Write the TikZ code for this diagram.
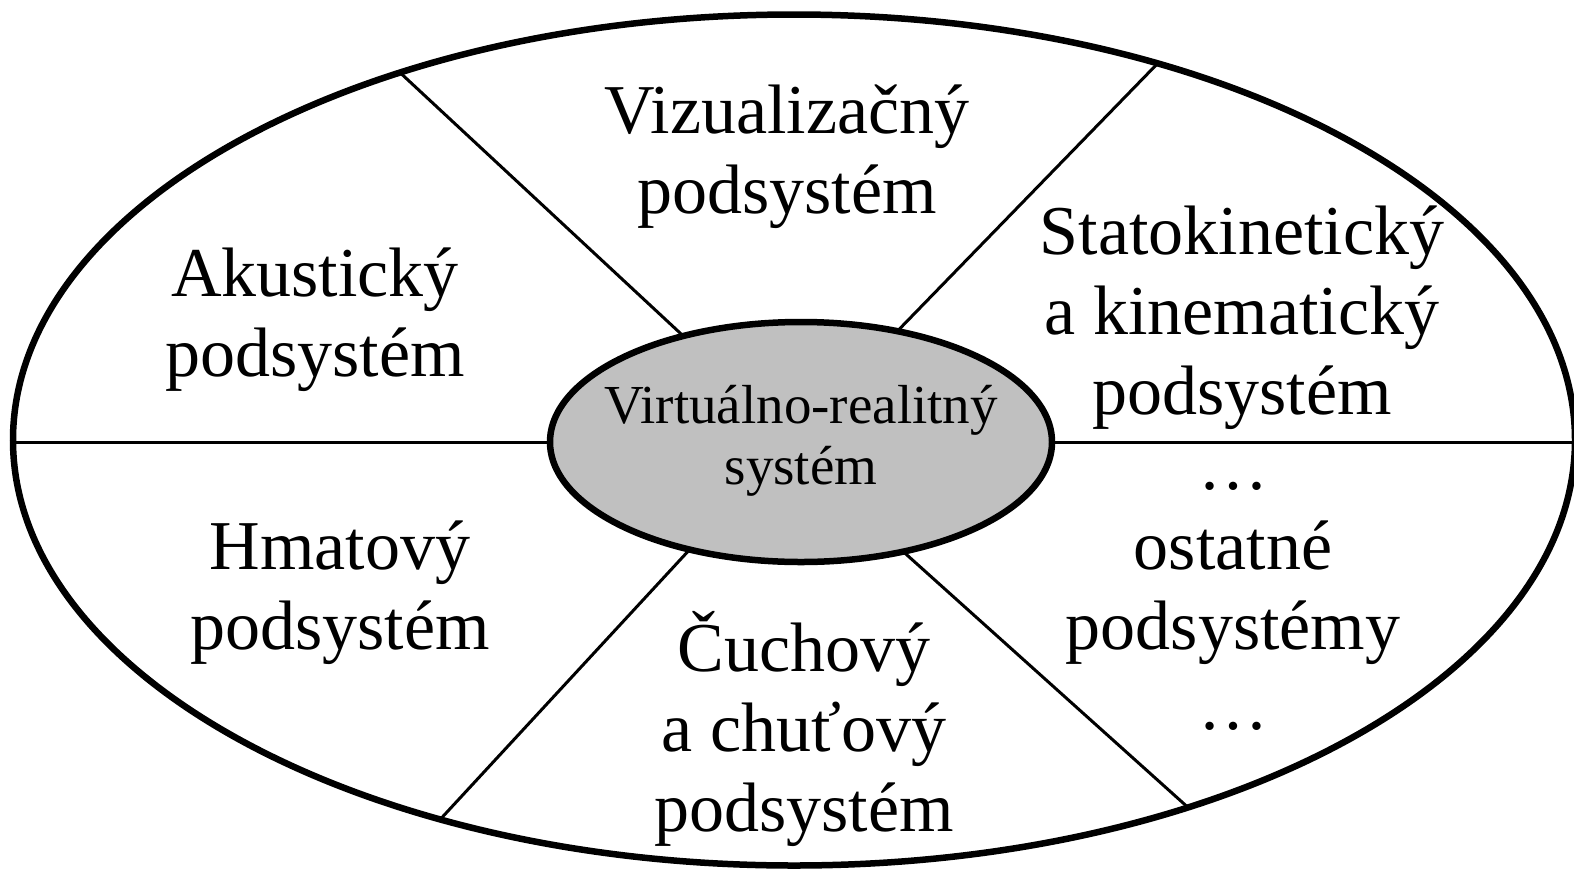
\documentclass[tikz,border=0pt]{standalone}
\usepackage{fontspec}
\setmainfont{Liberation Serif}
\usetikzlibrary{shapes.geometric}
\begin{document}
\begin{tikzpicture}[x=1pt,y=-1pt,
  oval/.style={ellipse,draw=black,line width=6.5pt,inner sep=0pt,outer sep=0pt},
  spoke/.style={draw=black,line width=3pt},
  lbl/.style={align=center,inner sep=0pt,font=\fontsize{70}{80}\selectfont},
  core/.style={align=center,inner sep=0pt,font=\fontsize{55}{61}\selectfont}]
\useasboundingbox (0,0) rectangle (1574,871);
\node[oval,minimum width=1562pt,minimum height=851pt] (out) at (794,440) {};
\node[oval,fill={rgb,255:red,192;green,192;blue,192},minimum width=502pt,minimum height=240pt] (in) at (801,442) {};
\draw[spoke] (in.west) -- (in.west -| out.west);
\draw[spoke] (in.east) -- (in.east -| out.east);
\draw[spoke] (in.138.6) -- (out.137.6);
\draw[spoke] (in.49) -- (out.46.8);
\draw[spoke] (in.224.7) -- (out.227.1);
\draw[spoke] (in.313) -- (out.317.5);
\node[core] (tcore) at (801,441) {Virtuálno-realitný\\systém};
\node[lbl] (tviz) at (787,157) {Vizualizačný\\podsystém};
\node[lbl] (takus) at (315,320) {Akustický\\podsystém};
\node[lbl] (tstat) at (1242,318) {Statokinetický\\a kinematický\\podsystém};
\node[lbl] (thmat) at (340,593) {Hmatový\\podsystém};
\node[lbl] (tcuch) at (804,729) {Čuchový\\a chuťový\\podsystém};
\node[lbl] (tost) at (1233,606) {…\\ostatné\\podsystémy\\…};
\end{tikzpicture}
\end{document}
